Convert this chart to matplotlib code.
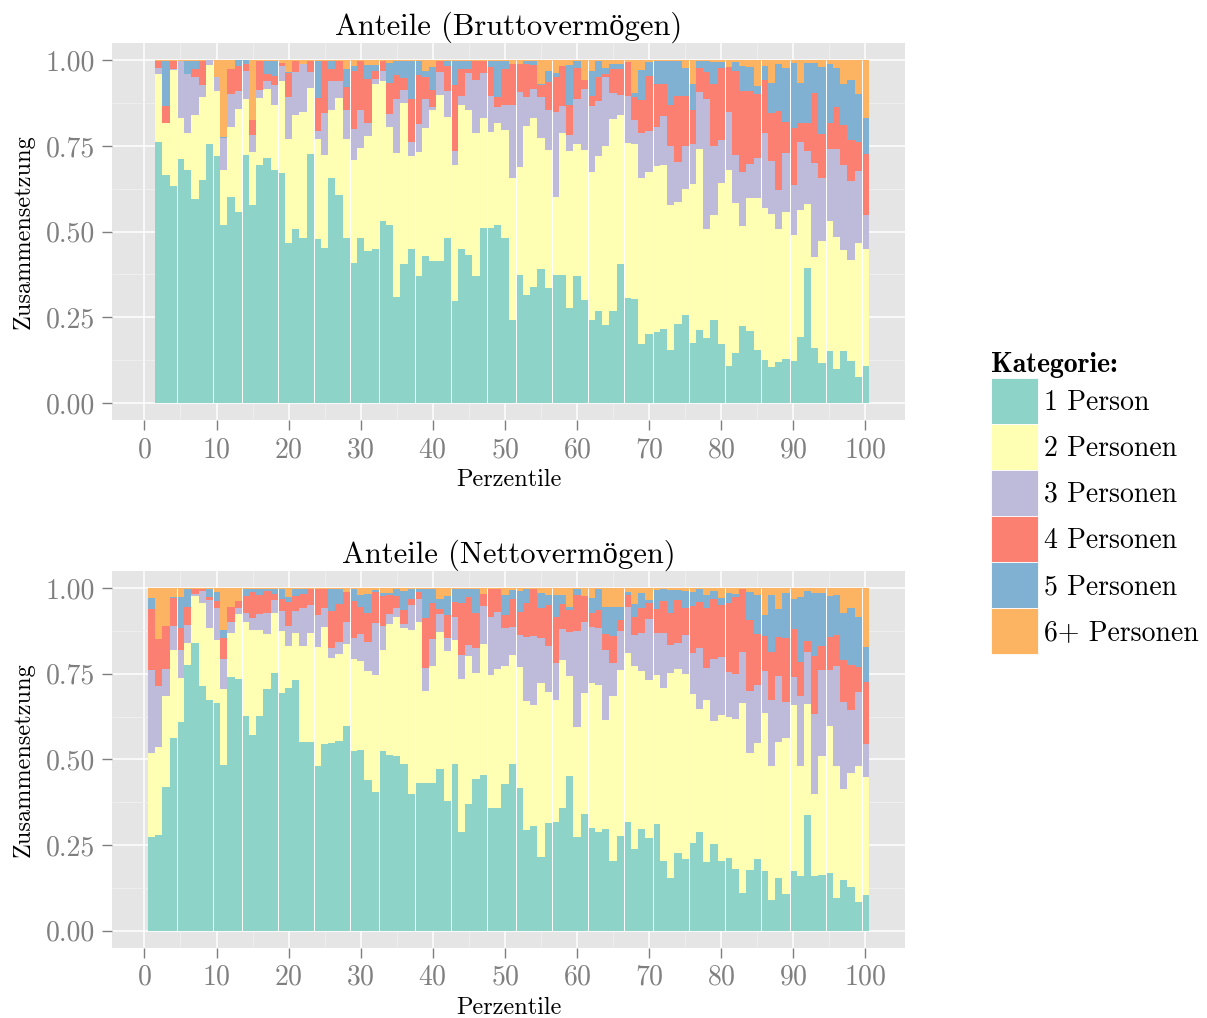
import matplotlib.pyplot as plt
import numpy as np
from matplotlib.patches import Patch
from matplotlib.font_manager import FontProperties

plt.rcParams['font.family'] = ['cmr10', 'Liberation Serif']
plt.rcParams['axes.formatter.use_mathtext'] = True

categories = ['1 Person', '2 Personen', '3 Personen', '4 Personen', '5 Personen', '6+ Personen']
colors = ['#8DD3C7', '#FFFFB3', '#BEBADA', '#FB8072', '#80B1D3', '#FDB462']

# Bruttovermoegen: Perzentile 2..100, kumulierte Anteile (Obergrenze je Kategorie 1..5)
brutto_perz = list(range(2, 101))
brutto_bis1 = [.760, .664, .632, .711, .681, .594, .649, .754, .719, .518, .602, .558, .722, .576, .693, .716, .681, .670, .468, .506,
               .480, .725, .477, .453, .655, .608, .482, .409, .480, .442, .450, .532, .520, .310, .404, .450, .371, .430, .415, .415,
               .480, .298, .450, .433, .371, .509, .509, .518, .480, .243, .374, .316, .339, .392, .336, .374, .374, .278, .371, .301,
               .243, .269, .228, .269, .404, .307, .304, .173, .202, .208, .216, .155, .231, .257, .175, .213, .190, .243, .173, .108,
               .146, .225, .211, .155, .126, .105, .120, .129, .123, .193, .395, .161, .117, .152, .099, .152, .123, .076, .108]
brutto_bis2 = [.959, .816, .971, .830, .787, .839, .892, .985, .909, .681, .804, .857, .886, .731, .889, .915, .868, .939, .769, .839,
               .848, .918, .769, .722, .854, .889, .769, .708, .743, .778, .930, .939, .804, .728, .874, .719, .731, .801, .854, .898,
               .833, .693, .868, .854, .787, .830, .790, .816, .795, .655, .687, .807, .830, .772, .737, .602, .787, .734, .754, .737,
               .673, .719, .751, .827, .839, .757, .754, .655, .675, .690, .693, .576, .585, .623, .640, .740, .506, .547, .643, .681,
               .582, .515, .599, .599, .570, .550, .506, .558, .491, .564, .579, .427, .471, .532, .485, .447, .418, .468, .450]
brutto_bis3 = [.977, .816, .973, .997, .959, .950, .927, 1.00, .950, .772, .901, .909, .968, .781, .912, .939, .927, .982, .892, .965,
               .988, .965, .792, .845, .939, .939, .854, .798, .854, .816, .944, .968, .842, .886, .912, .760, .813, .886, .863, .965,
               .909, .734, .895, .962, .942, .962, .895, .863, .868, .868, .906, .892, .915, .892, .854, .848, .866, .781, .886, .915,
               .866, .880, .950, .903, .898, .895, .825, .787, .792, .804, .836, .749, .702, .749, .754, .906, .886, .749, .768, .848,
               .722, .673, .696, .716, .787, .705, .620, .728, .635, .760, .734, .699, .655, .740, .740, .693, .647, .678, .547]
brutto_bis4 = [.997, .866, .997, .997, .959, .974, .997, 1.00, .950, .772, .974, .982, .988, .825, .997, .959, .953, .991, .962, .997,
               .988, .997, .889, .997, .974, .997, .921, .968, .997, .944, .968, .997, .933, .956, .947, .886, .956, .950, .912, .997,
               .982, .927, .974, .974, .997, .997, .980, .892, .974, .990, .988, .988, .985, .927, .936, .950, .982, .868, .977, .942,
               .895, .950, .959, .974, .974, .994, .892, .883, .953, .930, .930, .868, .895, .895, .854, .977, .965, .930, .977, .980,
               .968, .909, .909, .901, .942, .845, .851, .819, .801, .816, .816, .904, .784, .816, .863, .810, .766, .760, .725]
brutto_bis5 = [.997, .997, .997, .997, .997, .997, .997, 1.00, .950, .775, .974, 1.00, 1.00, .825, .997, .997, .997, .991, .965, .997,
               .988, .997, .997, .997, .997, .997, .974, .982, .997, .985, .985, .997, .991, .997, .997, .997, .997, .968, .980, .997,
               .997, .997, .997, .997, .997, .997, .997, .997, .997, .990, .988, .997, .997, .930, .968, .962, .982, .985, .997, .942,
               .968, .997, .977, .988, .988, .994, .904, .971, .994, .997, .997, .997, .997, .977, .930, .997, .997, .994, .994, .980,
               .994, .982, .980, .924, .982, .933, .988, .977, .991, .933, .991, .991, .980, .988, .977, .930, .942, .901, .830]

# Nettovermoegen: Perzentile 1..100
netto_perz = list(range(1, 101))
netto_bis1 = [.275, .281, .421, .564, .608, .775, .839, .713, .673, .664, .485, .740, .734, .626, .570, .626, .705, .751, .693, .708,
              .731, .550, .550, .480, .544, .547, .553, .597, .526, .529, .439, .406, .526, .512, .509, .488, .398, .430, .430, .430,
              .471, .380, .488, .289, .371, .442, .456, .357, .357, .427, .488, .418, .293, .307, .216, .316, .319, .357, .453, .275,
              .342, .301, .287, .298, .205, .278, .319, .240, .298, .272, .313, .205, .155, .228, .211, .257, .287, .202, .254, .205,
              .213, .181, .111, .178, .211, .175, .091, .155, .108, .175, .161, .339, .161, .164, .170, .096, .149, .129, .085, .105]
netto_bis2 = [.518, .535, .684, .819, .737, .839, .977, .956, .883, .848, .705, .868, .924, .901, .877, .877, .865, .927, .874, .830,
              .868, .830, .868, .827, .886, .795, .807, .836, .792, .787, .757, .746, .819, .895, .915, .883, .877, .901, .699, .772,
              .871, .816, .848, .734, .801, .751, .836, .746, .763, .772, .804, .769, .670, .658, .722, .696, .675, .789, .743, .596,
              .693, .722, .716, .614, .684, .760, .810, .772, .757, .731, .746, .708, .751, .763, .749, .690, .646, .675, .611, .629,
              .623, .617, .664, .518, .547, .637, .480, .550, .564, .658, .482, .661, .398, .509, .599, .482, .415, .462, .480, .450]
netto_bis3 = [.760, .713, .763, .889, .819, .892, .982, .991, .965, .942, .792, .901, .942, .927, .912, .924, .927, .965, .933, .889,
              .933, .942, .950, .921, .942, .825, .842, .901, .854, .866, .842, .898, .889, .924, .942, .895, .950, .968, .766, .852,
              .924, .854, .915, .804, .833, .825, .947, .915, .930, .883, .886, .862, .857, .860, .854, .830, .781, .880, .871, .875,
              .901, .886, .883, .819, .781, .874, .944, .862, .868, .909, .868, .868, .833, .840, .862, .810, .825, .766, .792, .799,
              .754, .749, .813, .699, .716, .757, .675, .743, .667, .740, .684, .813, .632, .760, .760, .772, .667, .643, .696, .544]
netto_bis4 = [.939, .851, .889, .971, .883, .944, .997, .997, .974, .962, .854, .944, .962, .977, .988, .980, .991, .982, .968, .959,
              .977, .982, .997, .997, .997, .933, .953, .988, .962, .944, .927, .988, .977, .980, .977, .936, .968, .988, .912, .956,
              .939, .921, .959, .956, .974, .927, .982, .997, .997, .921, .968, .930, .956, .997, .942, .950, .915, .953, .936, .980,
              .977, .927, .936, .866, .860, .906, .980, .915, .942, .956, .938, .962, .927, .965, .942, .947, .959, .942, .968, .950,
              .956, .974, .997, .906, .866, .860, .813, .857, .854, .880, .784, .845, .801, .830, .857, .863, .789, .775, .769, .725]
netto_bis5 = [.971, .851, .889, .974, .974, .997, .997, .997, .997, .988, .877, .944, .962, .997, .997, .997, .997, .997, .997, .974,
              .997, .997, .997, .997, .997, .997, .997, .988, .997, .980, .982, .994, .985, .985, .997, .991, .997, .997, .997, .997,
              .968, .977, .997, .997, .997, .997, .982, .997, .997, .980, .994, .991, .997, .997, .985, .980, .980, .980, .944, .997,
              .977, .971, .997, .944, .944, .944, .988, .953, .985, .965, .994, .997, .994, .994, .991, .988, .997, .980, .991, .971,
              .985, .982, .997, .988, .980, .921, .980, .939, .985, .968, .974, .991, .985, .985, .977, .980, .927, .942, .915, .827]

# feine weisse Trennlinien zwischen einzelnen Balken
gap_positions = [4.5, 9.5, 13.5, 18.5, 23.5, 28.5, 32.5, 37.5, 42.5, 47.5, 51.5,
                 56.5, 61.5, 66.5, 70.5, 75.5, 80.5, 85.5, 89.5, 94.5, 99.5]

panels = [
    ('Anteile (Bruttovermögen)', brutto_perz,
     [brutto_bis1, brutto_bis2, brutto_bis3, brutto_bis4, brutto_bis5]),
    ('Anteile (Nettovermögen)', netto_perz,
     [netto_bis1, netto_bis2, netto_bis3, netto_bis4, netto_bis5]),
]

fig = plt.figure(figsize=(12.07, 10.18), dpi=100)
ax_rects = [[0.0928, 0.5874, 0.657, 0.3703],
            [0.0928, 0.0688, 0.657, 0.3703]]

grey = '#7F7F7F'
for rect, (title, perz, bounds) in zip(ax_rects, panels):
    ax = fig.add_axes(rect)
    n = len(perz)
    cum = np.vstack([np.zeros(n)] + [np.array(b) for b in bounds] + [np.ones(n)])
    shares = np.clip(np.diff(cum, axis=0), 0, None)
    for k in range(6):
        ax.bar(perz, shares[k], bottom=cum[k], width=1.0, color=colors[k],
               linewidth=0, label=categories[k], zorder=2)
    ax.vlines(gap_positions, 0, 1, colors='white', linewidth=0.7, zorder=3)

    ax.set_facecolor('#E5E5E5')
    for s in ax.spines.values():
        s.set_visible(False)
    ax.set_xlim(-4.5, 105.5)
    ax.set_ylim(-0.05, 1.05)
    ax.set_xticks(np.arange(0, 101, 10))
    ax.set_xticks(np.arange(5, 101, 10), minor=True)
    ax.set_yticks([0, 0.25, 0.5, 0.75, 1.0])
    ax.set_yticklabels(['0.00', '0.25', '0.50', '0.75', '1.00'])
    ax.set_yticks([0.125, 0.375, 0.625, 0.875], minor=True)
    ax.grid(which='major', color='white', linewidth=1.1, zorder=0)
    ax.grid(which='minor', color='#F2F2F2', linewidth=0.5, zorder=0)
    ax.set_axisbelow(True)
    ax.tick_params(which='major', length=7, width=1.0, color=grey,
                   labelcolor=grey, labelsize=20, pad=5)
    ax.tick_params(which='minor', length=0)
    ax.set_title(title, fontsize=22, pad=6)
    ax.set_xlabel('Perzentile', fontsize=17.5, labelpad=4)
    ax.set_ylabel('Zusammensetzung', fontsize=17.5, labelpad=8)

handles = [Patch(facecolor=c, edgecolor='white', linewidth=0.6) for c in colors]
leg = fig.legend(handles, categories, loc='upper left',
                 bbox_to_anchor=(991 / 1207, 1 - 352 / 1018),
                 frameon=False, fontsize=20, title='Kategorie:',
                 title_fontproperties=FontProperties(family='cmb10', size=20),
                 handlelength=1.69, handleheight=2.175, labelspacing=0,
                 handletextpad=0.2, borderpad=0, borderaxespad=0,
                 alignment='left')

fig.savefig('out.png', dpi=100)
